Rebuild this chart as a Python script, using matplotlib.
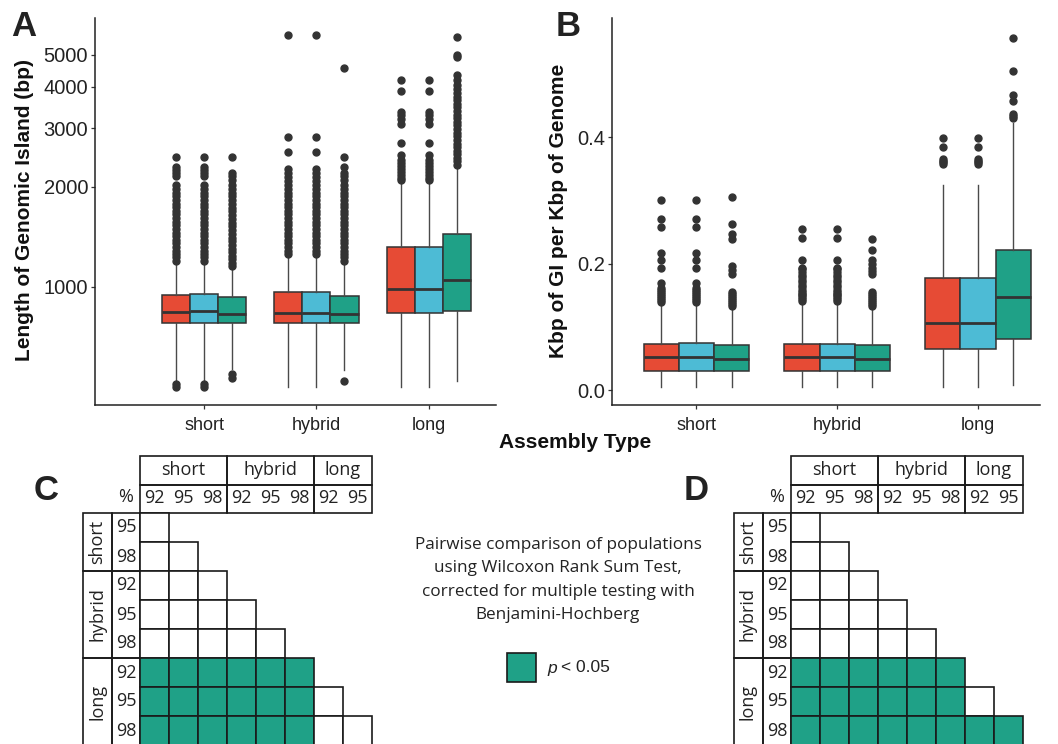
import matplotlib
matplotlib.use("Agg")
import matplotlib.pyplot as plt
from matplotlib.patches import Rectangle
from matplotlib.ticker import FixedLocator, NullLocator

W, H = 1058, 744
plt.rcParams['font.family'] = ['Liberation Sans', 'DejaVu Sans']

assembly = ["short", "hybrid", "long"]
cutoffs = ["92", "95", "98"]
box_colors = ["#E64B35", "#4DBBD5", "#1FA187"]
sig_green = "#1FA187"

# ---- panel A: length of genomic island (bp); rows = cutoff 92/95/98, cols = short/hybrid/long
len_q1 = [[779, 779, 835], [779, 779, 835], [779, 779, 847]]
len_med = [[841, 835, 987], [843, 835, 987], [829, 829, 1050]]
len_q3 = [[946, 966, 1320], [948, 966, 1320], [933, 940, 1445]]
len_lo = [[525, 500, 500], [525, 500, 500], [565, 560, 520]]
len_hi = [[1190, 1250, 2055], [1190, 1250, 2055], [1150, 1190, 2300]]

len_out_short_92 = [500, 510, 1195, 1225, 1255, 1285, 1315, 1350, 1385, 1420, 1455, 1490,
                    1530, 1570, 1610, 1650, 1690, 1735, 1780, 1825, 1870, 1920, 1970,
                    2020, 2150, 2200, 2250, 2290, 2460]
len_out_short_95 = len_out_short_92
len_out_short_98 = [530, 545, 1155, 1180, 1210, 1240, 1270, 1300, 1335, 1370, 1405, 1440,
                    1480, 1520, 1560, 1600, 1640, 1685, 1730, 1775, 1820, 1870, 1920,
                    1970, 2030, 2090, 2150, 2200, 2460]
len_out_hybrid_92 = [1255, 1285, 1315, 1350, 1385, 1420, 1455, 1490, 1530, 1570, 1610,
                     1650, 1690, 1735, 1780, 1825, 1870, 1920, 1970, 2020, 2080, 2140,
                     2200, 2260, 2550, 2830, 5740]
len_out_hybrid_95 = len_out_hybrid_92
len_out_hybrid_98 = [521, 1195, 1225, 1255, 1285, 1315, 1350, 1385, 1420, 1455, 1490, 1530,
                     1570, 1610, 1650, 1690, 1735, 1780, 1825, 1870, 1920, 1970, 2030,
                     2090, 2150, 2200, 2300, 2460, 4570]
len_out_long_92 = [2090, 2130, 2170, 2210, 2260, 2310, 2360, 2410, 2490, 2710, 3100, 3200,
                   3280, 3360, 3900, 4200]
len_out_long_95 = len_out_long_92
len_out_long_98 = [2330, 2390, 2450, 2510, 2570, 2640, 2700, 2770, 2840, 2910, 2980, 3060,
                   3140, 3220, 3300, 3380, 3470, 3560, 3650, 3740, 3840, 3940, 4040, 4200,
                   4350, 4930, 4980, 5670]
len_out = [[len_out_short_92, len_out_hybrid_92, len_out_long_92],
           [len_out_short_95, len_out_hybrid_95, len_out_long_95],
           [len_out_short_98, len_out_hybrid_98, len_out_long_98]]
len_ticks = [1000, 2000, 3000, 4000, 5000]

# ---- panel B: kbp of GI per kbp of genome
frac_q1 = [[0.030, 0.030, 0.065], [0.030, 0.030, 0.065], [0.030, 0.030, 0.081]]
frac_med = [[0.052, 0.052, 0.106], [0.052, 0.052, 0.106], [0.050, 0.050, 0.147]]
frac_q3 = [[0.074, 0.074, 0.178], [0.075, 0.074, 0.178], [0.071, 0.071, 0.222]]
frac_lo = [[0.005, 0.005, 0.005], [0.005, 0.005, 0.005], [0.005, 0.005, 0.008]]
frac_hi = [[0.137, 0.139, 0.325], [0.137, 0.139, 0.325], [0.131, 0.131, 0.423]]

frac_out_short_92 = [0.140, 0.143, 0.146, 0.149, 0.152, 0.155, 0.158, 0.162, 0.170, 0.193,
                     0.206, 0.217, 0.258, 0.271, 0.301]
frac_out_short_95 = frac_out_short_92
frac_out_short_98 = [0.134, 0.137, 0.140, 0.143, 0.146, 0.149, 0.152, 0.156, 0.184, 0.190,
                     0.197, 0.239, 0.247, 0.263, 0.305]
frac_out_hybrid_92 = [0.141, 0.144, 0.147, 0.150, 0.153, 0.156, 0.159, 0.163, 0.167, 0.171,
                      0.175, 0.179, 0.183, 0.187, 0.191, 0.194, 0.206, 0.241, 0.255]
frac_out_hybrid_95 = frac_out_hybrid_92
frac_out_hybrid_98 = [0.134, 0.137, 0.140, 0.143, 0.146, 0.149, 0.152, 0.156, 0.184, 0.188,
                      0.193, 0.200, 0.206, 0.221, 0.239]
frac_out_long_92 = [0.357, 0.360, 0.363, 0.366, 0.384, 0.399]
frac_out_long_95 = frac_out_long_92
frac_out_long_98 = [0.430, 0.433, 0.436, 0.457, 0.466, 0.504, 0.557]
frac_out = [[frac_out_short_92, frac_out_hybrid_92, frac_out_long_92],
            [frac_out_short_95, frac_out_hybrid_95, frac_out_long_95],
            [frac_out_short_98, frac_out_hybrid_98, frac_out_long_98]]
frac_ticks = [0.0, 0.2, 0.4]

# ---- panels C/D: pairwise Wilcoxon (1 = p < 0.05), lower triangle
cmp_row_groups = [("short", 2), ("hybrid", 3), ("long", 3)]
cmp_row_pct = ["95", "98", "92", "95", "98", "92", "95", "98"]
cmp_col_groups = [("short", 3), ("hybrid", 3), ("long", 2)]
cmp_col_pct = ["92", "95", "98", "92", "95", "98", "92", "95"]
sig_C = [[0],
         [0, 0],
         [0, 0, 0],
         [0, 0, 0, 0],
         [0, 0, 0, 0, 0],
         [1, 1, 1, 1, 1, 1],
         [1, 1, 1, 1, 1, 1, 0],
         [1, 1, 1, 1, 1, 1, 0, 0]]
sig_D = [[0],
         [0, 0],
         [0, 0, 0],
         [0, 0, 0, 0],
         [0, 0, 0, 0, 0],
         [1, 1, 1, 1, 1, 1],
         [1, 1, 1, 1, 1, 1, 0],
         [1, 1, 1, 1, 1, 1, 1, 1]]
note_lines = ["Pairwise comparison of populations",
              "using Wilcoxon Rank Sum Test,",
              "corrected for multiple testing with",
              "Benjamini-Hochberg"]

fig = plt.figure(figsize=(W / 100, H / 100), dpi=100)


def px_ax(x0, y0, x1, y1):
    return fig.add_axes([x0 / W, 1 - y1 / H, (x1 - x0) / W, (y1 - y0) / H])


def draw_boxes(ax, q1, med, q3, lo, hi, out):
    for c in range(3):
        for g in range(3):
            st = dict(q1=q1[c][g], med=med[c][g], q3=q3[c][g],
                      whislo=lo[c][g], whishi=hi[c][g], fliers=out[c][g])
            ax.bxp([st], positions=[g + 1 + (c - 1) * 0.25], widths=0.25,
                   patch_artist=True, showcaps=False, manage_ticks=False,
                   boxprops=dict(facecolor=box_colors[c], edgecolor="#333333", linewidth=1.1),
                   medianprops=dict(color="#333333", linewidth=2.0),
                   whiskerprops=dict(color="#4a4a4a", linewidth=1.0),
                   flierprops=dict(marker="o", markerfacecolor="#333333",
                                   markeredgecolor="#333333", markersize=5, linestyle="none"))


def style_ax(ax):
    for s in ["top", "right"]:
        ax.spines[s].set_visible(False)
    for s in ["left", "bottom"]:
        ax.spines[s].set_linewidth(1.1)
        ax.spines[s].set_color("#222222")
    ax.tick_params(axis="both", length=3, width=0.9, color="#333333")
    ax.tick_params(axis="y", labelsize=14.5, pad=2, labelcolor="#222222")
    ax.tick_params(axis="x", labelsize=13, pad=6, labelcolor="#222222")
    ax.set_xticks([1, 2, 3])
    ax.set_xticklabels(assembly)


# overlay for annotations / tables (pixel coordinates)
ov = fig.add_axes([0, 0, 1, 1])
ov.set_xlim(0, W)
ov.set_ylim(H, 0)
ov.axis("off")

# panel A
axA = px_ax(95, 18, 496, 405)
draw_boxes(axA, len_q1, len_med, len_q3, len_lo, len_hi, len_out)
axA.set_yscale("log")
axA.set_ylim(440, 6450)
axA.yaxis.set_major_locator(FixedLocator(len_ticks))
axA.yaxis.set_minor_locator(NullLocator())
axA.set_yticklabels([str(t) for t in len_ticks])
axA.set_xlim(0.027, 3.6)
style_ax(axA)

# panel B
axB = px_ax(612, 18, 1040, 405)
draw_boxes(axB, frac_q1, frac_med, frac_q3, frac_lo, frac_hi, frac_out)
axB.set_ylim(-0.023, 0.588)
axB.set_yticks(frac_ticks)
axB.set_yticklabels(["0.0", "0.2", "0.4"])
axB.set_xlim(0.4, 3.44)
style_ax(axB)

# axis labels and panel letters
ov.text(25, 210, "Length of Genomic Island (bp)", rotation=90, ha="center", va="center",
        fontsize=15, fontweight="bold", color="#111111")
ov.text(558, 211, "Kbp of GI per Kbp of Genome", rotation=90, ha="center", va="center",
        fontsize=15, fontweight="bold", color="#111111")
ov.text(575, 442, "Assembly Type", ha="center", va="center", fontsize=15,
        fontweight="bold", color="#111111")
for letter, x, y in [("A", 11, 26), ("B", 556, 26), ("C", 34, 491), ("D", 684, 491)]:
    ov.text(x, y, letter, ha="left", va="center", fontsize=25, fontweight="bold",
            color="#222222")

# legend of panel A
ov.text(107, 32, "cutoff (%)", ha="left", va="center", fontsize=14.5, color="#222222")
for k, lab in enumerate(cutoffs):
    yc = 56 + k * 21.5
    ov.plot([117, 117], [yc - 8, yc + 8], color="#4a4a4a", lw=0.8)
    ov.add_patch(Rectangle((108, yc - 6), 18, 12, facecolor=box_colors[k],
                           edgecolor="#333333", lw=1.0))
    ov.plot([108, 126], [yc, yc], color="#333333", lw=1.6)
    ov.text(131, yc + 1, lab, ha="left", va="center", fontsize=14, color="#222222")

# comparison tables
tfont = ["Open Sans", "DejaVu Sans"]
CELL = 29
TFS = 13


def draw_table(x0, sig):
    y0 = 513
    lc = "#1a1a1a"
    # column header
    cx = x0
    for name, n in cmp_col_groups:
        ov.add_patch(Rectangle((cx, 456), n * CELL, 28.5, fill=False, ec=lc, lw=1.2))
        ov.add_patch(Rectangle((cx, 484.5), n * CELL, 28.5, fill=False, ec=lc, lw=1.2))
        ov.text(cx + n * CELL / 2, 470, name, ha="center", va="center", fontsize=TFS,
                family=tfont, color="#222222")
        cx += n * CELL
    for j, lab in enumerate(cmp_col_pct):
        ov.text(x0 + j * CELL + CELL / 2, 498, lab, ha="center", va="center",
                fontsize=TFS, family=tfont, color="#222222")
    ov.text(x0 - 14, 497, "%", ha="center", va="center", fontsize=TFS, family=tfont,
            color="#222222")
    # row header
    ry = y0
    for name, n in cmp_row_groups:
        ov.add_patch(Rectangle((x0 - 57, ry), 28.5, n * CELL, fill=False, ec=lc, lw=1.2))
        ov.add_patch(Rectangle((x0 - 28.5, ry), 28.5, n * CELL, fill=False, ec=lc, lw=1.2))
        ov.text(x0 - 43, ry + n * CELL / 2, name, rotation=90, ha="center", va="center",
                fontsize=TFS, family=tfont, color="#222222")
        ry += n * CELL
    for i, lab in enumerate(cmp_row_pct):
        ov.text(x0 - 14, y0 + i * CELL + CELL / 2, lab, ha="center", va="center",
                fontsize=TFS, family=tfont, color="#222222")
    # cells
    for i, row in enumerate(sig):
        for j, v in enumerate(row):
            ov.add_patch(Rectangle((x0 + j * CELL, y0 + i * CELL), CELL, CELL,
                                   facecolor=sig_green if v else "white", ec=lc, lw=1.2))


draw_table(140, sig_C)
draw_table(791, sig_D)

# note and significance key
for k, line in enumerate(note_lines):
    ov.text(558, 545 + k * 23.4, line, ha="center", va="center", fontsize=12.3,
            family=tfont, color="#222222")
ov.add_patch(Rectangle((507, 653), 29, 29, facecolor=sig_green, ec="#1a1a1a", lw=1.2))
ov.text(547, 668, "p", ha="left", va="center", fontsize=12.5, style="italic", color="#222222")
ov.text(561, 668, "< 0.05", ha="left", va="center", fontsize=12.5, color="#222222")

fig.savefig("out.png", dpi=100)
